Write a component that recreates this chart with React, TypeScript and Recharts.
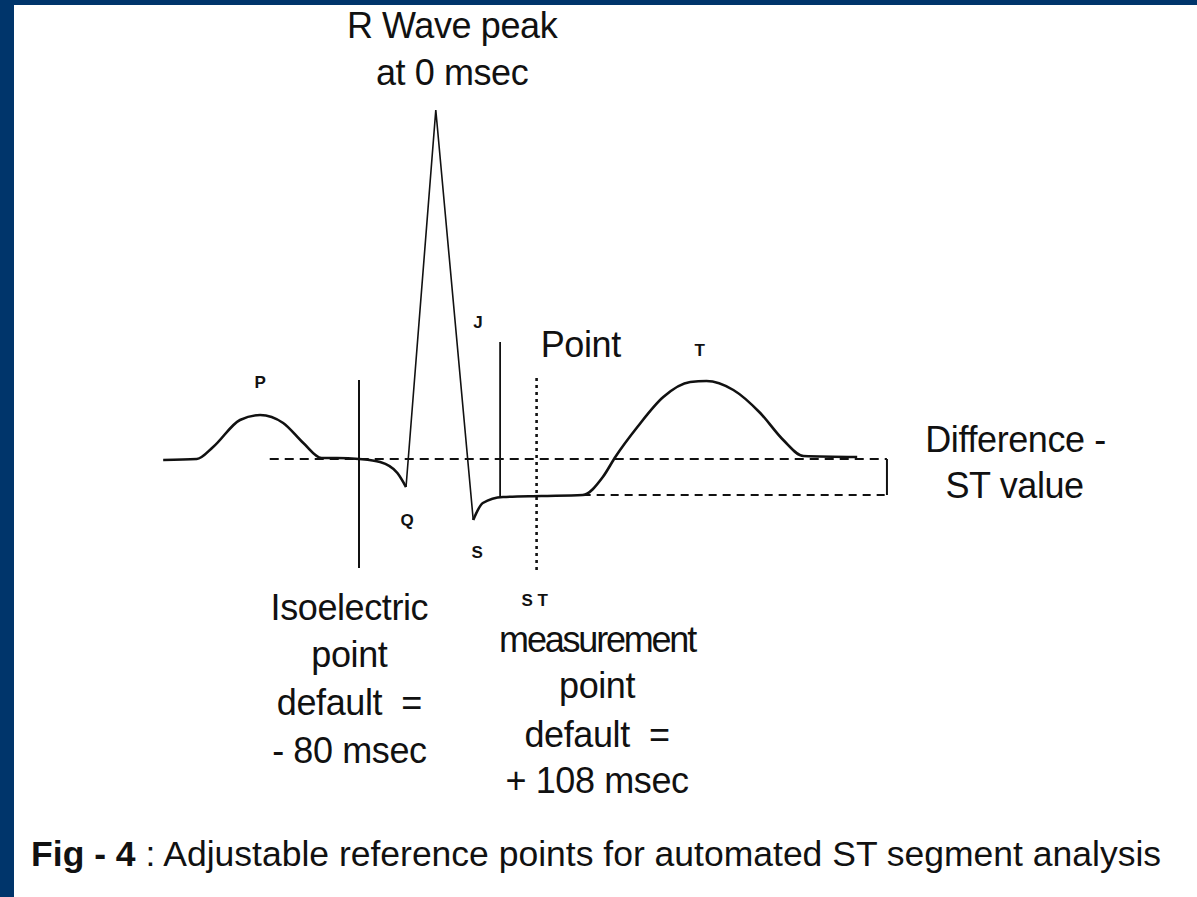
import { ComposedChart, Line, XAxis, YAxis, ReferenceLine, ReferenceDot } from 'recharts';

const W = 1197;
const H = 897;
const FONT = '"Liberation Sans", Arial, sans-serif';

// time in msec relative to the R peak, amplitude in hundredths of a mV (baseline = 0)
const pqTime = [-284, -249, -232, -204, -183, -159, -138, -119, -103, -80, -58, -40, -31];
const pqAmp = [-1, 0, 12, 39, 44, 36, 16, 1, 1, 0, -3, -14, -28];
const qrsTime = [-31, 0, 39];
const qrsAmp = [-28, 349, -61];
const stTime = [39, 49, 70, 110, 153, 174, 187, 210, 237, 265, 282, 310, 338, 362, 383, 439];
const stAmp = [-61, -44, -38, -37, -36, -18, 2, 32, 62, 77, 78, 69, 46, 19, 3, 2];

// reference points
const isoPoint = -80;
const jPoint = 67;
const stPoint = 105;
const stLevel = -36;
const guideStart = -173;
const guideEnd = 470;

// wave letters: [text, time, amplitude]
const waveLabels: [string, number, number][] = [
  ['P', -183, 71],
  ['Q', -30, -67],
  ['S', 43, -99],
  ['J', 44, 131],
  ['T', 275, 103],
  ['S T', 103, -147],
];

// annotation text lines: [text, time, amplitude]
const notes: [string, number, number][] = [
  ['R Wave peak', 17, 421],
  ['at 0 msec', 17, 374],
  ['Point', 151, 102],
  ['Difference -', 604, 7],
  ['ST value', 603, -39],
  ['Isoelectric', -90, -161],
  ['point', -90, -208],
  ['default  =', -90, -256],
  ['- 80 msec', -90, -304],
  ['measurement', 168, -193],
  ['point', 168, -239],
  ['default  =', 168, -288],
  ['+ 108 msec', 168, -334],
];

const captionBold = 'Fig - 4';
const captionRest = ' : Adjustable reference points for automated ST segment analysis';
const captionPos = [167, -407];

const toRows = (t: number[], a: number[]) => t.map((x, i) => ({ t: x, v: a[i] }));
const pqData = toRows(pqTime, pqAmp);
const qrsData = toRows(qrsTime, qrsAmp);
const stData = toRows(stTime, stAmp);

const textAt = (text: string, size: number, weight: number, spacing = 0) => (props: any) => {
  const vb = props.viewBox || {};
  return (
    <text x={vb.x} y={vb.y} textAnchor="middle" fontFamily={FONT} fontSize={size}
      fontWeight={weight} fill="#111" letterSpacing={spacing} style={{ whiteSpace: 'pre' }}>
      {text}
    </text>
  );
};

const captionAt = (props: any) => {
  const vb = props.viewBox || {};
  return (
    <text x={vb.x} y={vb.y} textAnchor="middle" fontFamily={FONT} fontSize={35.5} fill="#111">
      <tspan fontWeight={700}>{captionBold}</tspan>
      <tspan>{captionRest}</tspan>
    </text>
  );
};

export default function App() {
  return (
    <div style={{ position: 'absolute', left: 0, top: 0, width: W, height: H, background: '#00356b' }}>
      <div style={{ position: 'absolute', left: 14, top: 5, right: 0, bottom: 0, background: '#fff' }} />
      <div style={{ position: 'absolute', left: 0, top: 0 }}>
        <ComposedChart width={W} height={H} margin={{ top: 0, right: 0, bottom: 0, left: 0 }}>
          <XAxis type="number" dataKey="t" domain={[-454, 793]} hide allowDataOverflow />
          <YAxis type="number" dataKey="v" domain={[-438, 459]} hide allowDataOverflow />

          <ReferenceLine segment={[{ x: guideStart, y: 0 }, { x: guideEnd, y: 0 }]} stroke="#111" strokeWidth={2} strokeDasharray="9 6" />
          <ReferenceLine segment={[{ x: 153, y: stLevel }, { x: guideEnd, y: stLevel }]} stroke="#111" strokeWidth={2} strokeDasharray="8 6" />
          <ReferenceLine segment={[{ x: guideEnd, y: 0 }, { x: guideEnd, y: stLevel }]} stroke="#111" strokeWidth={2} />
          <ReferenceLine segment={[{ x: isoPoint, y: 79 }, { x: isoPoint, y: -109 }]} stroke="#111" strokeWidth={2} />
          <ReferenceLine segment={[{ x: jPoint, y: 117 }, { x: jPoint, y: stLevel - 2 }]} stroke="#111" strokeWidth={1.8} />
          <ReferenceLine segment={[{ x: stPoint, y: 81 }, { x: stPoint, y: -111 }]} stroke="#111" strokeWidth={2.6} strokeDasharray="3 4" />

          <Line data={pqData} dataKey="v" type="monotone" stroke="#111" strokeWidth={2.6} dot={false} activeDot={false} isAnimationActive={false} />
          <Line data={qrsData} dataKey="v" type="linear" stroke="#111" strokeWidth={1.6} dot={false} activeDot={false} isAnimationActive={false} />
          <Line data={stData} dataKey="v" type="monotone" stroke="#111" strokeWidth={2.6} dot={false} activeDot={false} isAnimationActive={false} />

          {waveLabels.map(([s, t, a]) => (
            <ReferenceDot key={'w' + s} x={t} y={a} r={0} stroke="none" label={textAt(s, 17, 700)} />
          ))}
          {notes.map(([s, t, a], i) => (
            <ReferenceDot key={'n' + i} x={t} y={a} r={0} stroke="none"
              label={textAt(s, 36, 400, s === 'measurement' ? -2.2 : -0.4)} />
          ))}
          <ReferenceDot x={captionPos[0]} y={captionPos[1]} r={0} stroke="none" label={captionAt} />
        </ComposedChart>
      </div>
    </div>
  );
}
